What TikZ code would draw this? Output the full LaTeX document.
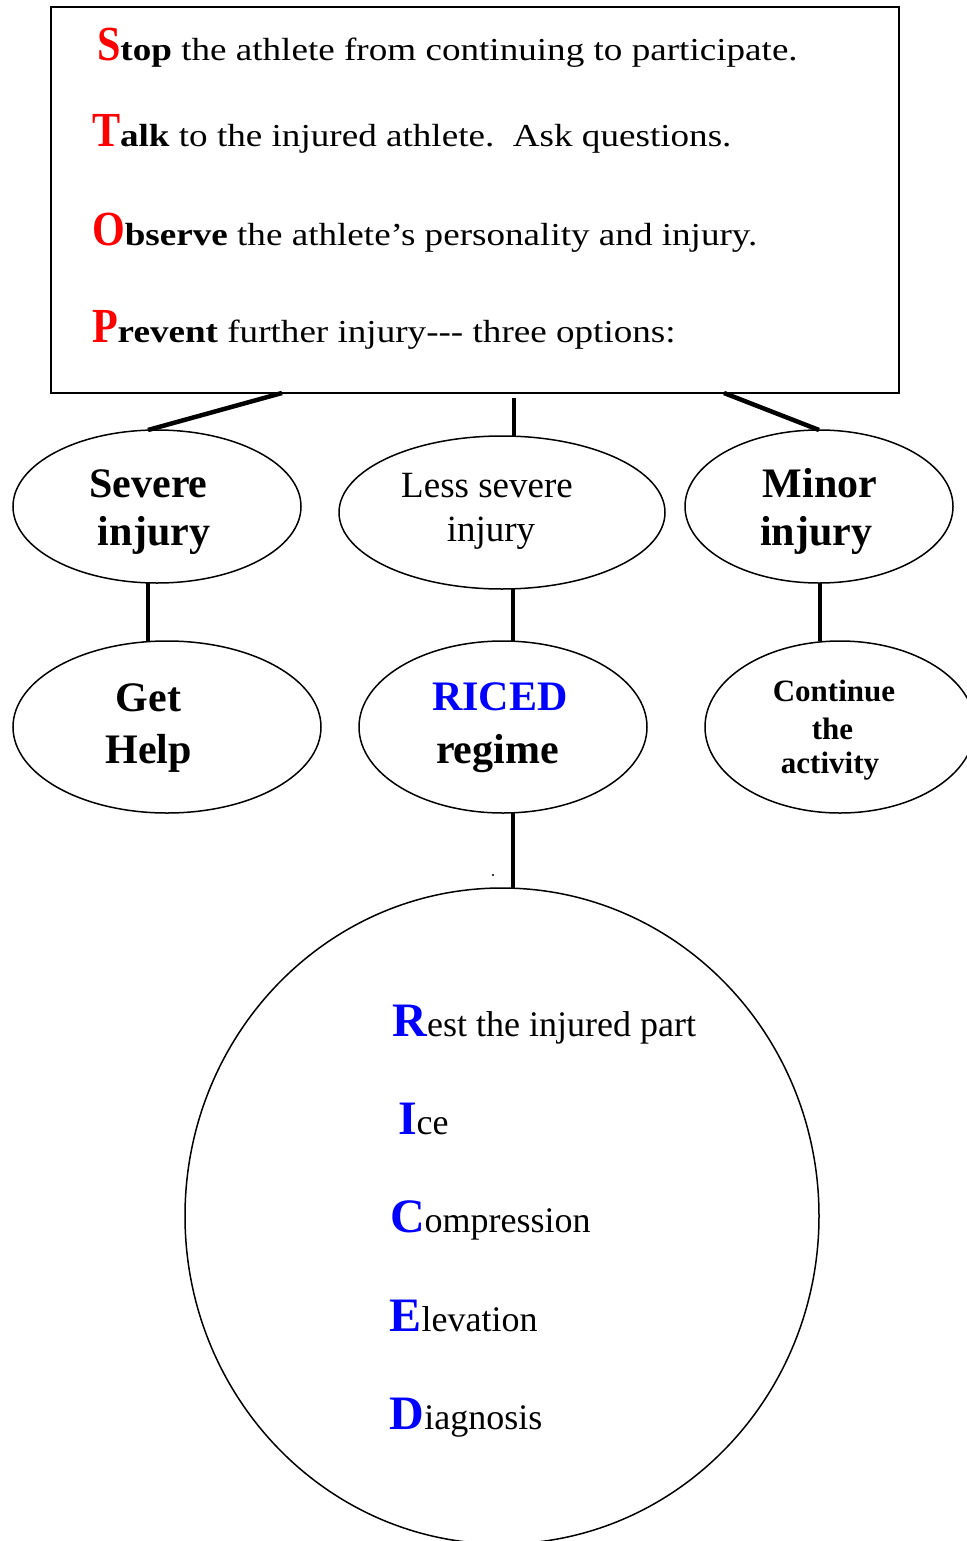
\documentclass[tikz,border=0pt]{standalone}
\usepackage{fontspec}
\setmainfont{Liberation Serif}
\newfontfamily\widefont[FakeStretch=1.16]{Liberation Serif}
\newfontfamily\narrowfont[FakeStretch=0.86]{Liberation Serif}
\usetikzlibrary{shapes.geometric}
\definecolor{sred}{RGB}{255,0,0}
\definecolor{rblue}{RGB}{0,0,255}
\tikzset{
  every node/.style={inner sep=0pt, outer sep=0pt},
  txt/.style={anchor=base west},
  ctxt/.style={anchor=base},
  oval/.style={ellipse, draw, line width=1.5pt},
  conn/.style={line width=4.5pt},
  bigb/.style={font=\bfseries\fontsize{42}{42}\selectfont},
  medr/.style={font=\fontsize{37}{37}\selectfont},
  smallb/.style={font=\bfseries\fontsize{31}{31}\selectfont},
}
\newcommand\redcap[1]{{\narrowfont\bfseries\fontsize{49}{49}\selectfont\textcolor{sred}{#1}}}
\newcommand\bluecap[1]{{\bfseries\fontsize{48}{48}\selectfont\textcolor{rblue}{#1}}}
\begin{document}
\begin{tikzpicture}[x=1pt,y=-1pt]
\useasboundingbox (0,0) rectangle (966,1541);
% top box
\node[draw, line width=2pt, minimum width=848pt, minimum height=386pt] (box) at (475,200) {};
\node[txt] (l1) at (97,61) {\redcap{S}{\widefont\fontsize{32}{32}\selectfont\bfseries top \mdseries the athlete from continuing to participate.}};
\node[txt] (l2) at (92,147) {\redcap{T}{\widefont\fontsize{32}{32}\selectfont\bfseries alk \mdseries to the injured athlete.\ \ Ask questions.}};
\node[txt] (l3) at (92,245) {\redcap{O}{\widefont\fontsize{32}{32}\selectfont\bfseries bserve \mdseries the athlete’s personality and injury.}};
\node[txt] (l4) at (92,342) {\redcap{P}{\widefont\fontsize{32}{32}\selectfont\bfseries revent \mdseries further injury--- three options:}};
% second row
\node[oval, minimum width=288pt, minimum height=153pt] (sev) at (157,506.5) {};
\node[oval, minimum width=326pt, minimum height=153pt] (less) at (502,512.5) {};
\node[oval, minimum width=268pt, minimum height=153pt] (minor) at (819,506.5) {};
\node[ctxt, bigb] (sev1) at (148.5,497) {Severe};
\node[ctxt, bigb] (sev2) at (154,545) {injury};
\node[ctxt, medr] (less1) at (487,497) {Less severe};
\node[ctxt, medr] (less2) at (491,541) {injury};
\node[ctxt, bigb] (min1) at (820,497) {Minor};
\node[ctxt, bigb] (min2) at (816,545) {injury};
% third row
\node[oval, minimum width=308pt, minimum height=172pt] (help) at (167,727) {};
\node[oval, minimum width=288pt, minimum height=172pt] (riced) at (503,727) {};
\node[oval, minimum width=270pt, minimum height=172pt] (cont) at (840,727) {};
\node[ctxt, bigb] (help1) at (148.5,711) {Get};
\node[ctxt, bigb] (help2) at (148.5,763) {Help};
\node[ctxt, bigb, text=rblue] (riced1) at (500,710) {RICED};
\node[ctxt, bigb] (riced2) at (497.5,763) {regime};
\node[ctxt, smallb] (cont1) at (834,701) {Continue};
\node[ctxt, smallb] (cont2) at (832.5,739) {the};
\node[ctxt, smallb] (cont3) at (830,773) {activity};
% big circle
\node[oval, minimum width=634pt, minimum height=656pt] (rc) at (502,1216) {};
\node[txt, font=\fontsize{36}{36}\selectfont] (r1) at (392.5,1036) {\bluecap{R}est the injured part};
\node[txt, font=\fontsize{36}{36}\selectfont] (r2) at (398,1134) {\bluecap{I}ce};
\node[txt, font=\fontsize{36}{36}\selectfont] (r3) at (390,1232) {\bluecap{C}ompression};
\node[txt, font=\fontsize{36}{36}\selectfont] (r4) at (389.6,1331) {\bluecap{E}levation};
\node[txt, font=\fontsize{36}{36}\selectfont] (r5) at (389.6,1429) {\bluecap{D}iagnosis};
\node[circle, fill, minimum size=2.4pt] (dot) at (493,875) {};
% connectors
\draw[conn] ([xshift=-193pt]box.south) -- ([xshift=-9pt]sev.north);
\draw[conn] ([xshift=39pt,yshift=-5pt]box.south) -- ([xshift=12pt]less.north);
\draw[conn] ([xshift=249pt]box.south) -- (minor.north);
\draw[conn] ([xshift=-9pt]sev.south) -- ([xshift=-19pt]help.north);
\draw[conn] ([xshift=11pt]less.south) -- ([xshift=10pt]riced.north);
\draw[conn] ([xshift=1pt]minor.south) -- ([xshift=-20pt]cont.north);
\draw[conn] ([xshift=10pt]riced.south) -- ([xshift=11pt]rc.north);
\end{tikzpicture}
\end{document}
